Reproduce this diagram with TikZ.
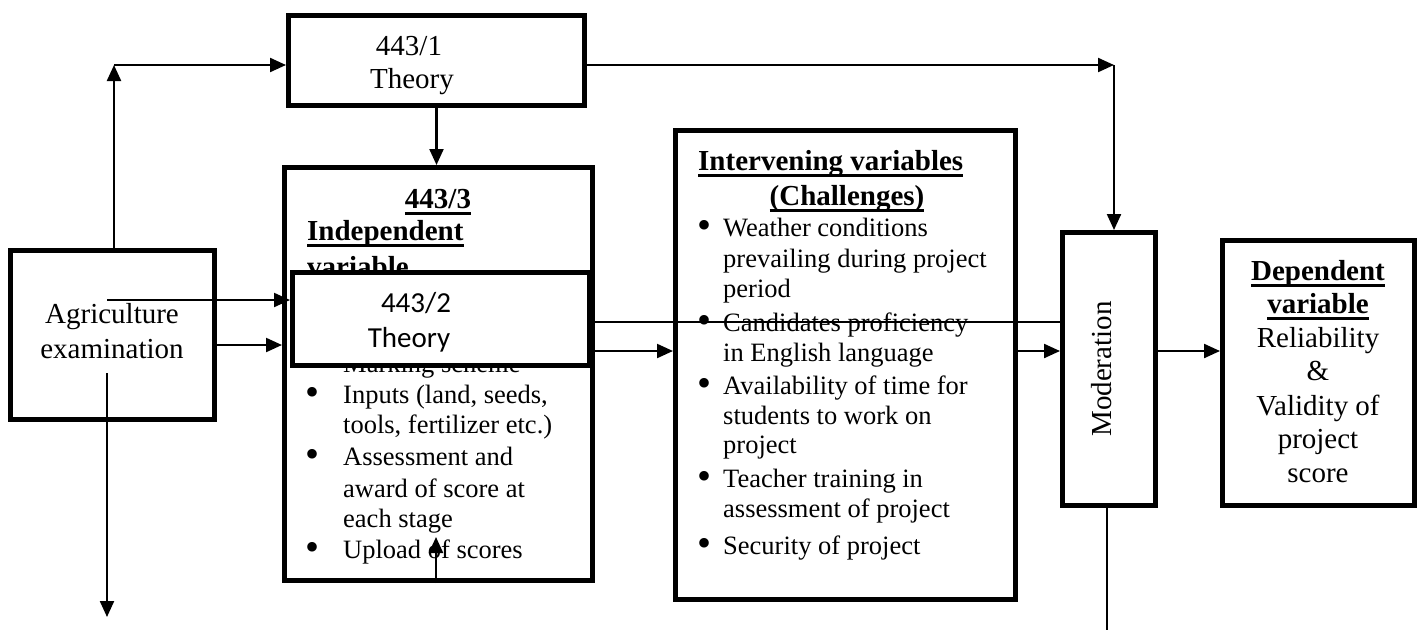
\documentclass[tikz,border=0pt]{standalone}
\usepackage{fontspec}
\setmainfont{Liberation Serif}
\newfontfamily\calibrifont{Carlito}
\usetikzlibrary{arrows.meta}
\newsavebox\myulbox
\newcommand{\myul}[1]{\sbox\myulbox{#1}\rlap{\rule[-6.5pt]{\wd\myulbox}{2.5pt}}\usebox\myulbox}
\newcommand{\fsA}{\fontsize{29pt}{34pt}\selectfont}
\newcommand{\fsB}{\fontsize{26.5pt}{30pt}\selectfont}
\newcommand{\fsBul}{\fontsize{40pt}{40pt}\selectfont}
\begin{document}
\begin{tikzpicture}[x=1pt,y=-1pt,
  box/.style={draw, line width=5pt, fill=white, inner sep=0pt},
  arr/.style={line width=2.2pt, -{Triangle[length=16pt,width=14pt]}},
  ln/.style={line width=2.2pt},
  bigt/.style={font=\fsA, inner sep=0pt, anchor=base},
  bigbt/.style={font={\fsA\bfseries}, inner sep=0pt, anchor=base},
  smt/.style={font=\fsB, inner sep=0pt, anchor=base west},
  bul/.style={font=\fsBul, inner sep=0pt, anchor=center},
]
\useasboundingbox[fill=white] (0,0) rectangle (1423,630);

% boxes
\node[box, minimum width=204pt, minimum height=169pt] (agri) at (112.5,335) {};
\node[box, minimum width=296pt, minimum height=90pt] (th1) at (436.5,60.5) {};
\node[box, minimum width=308pt, minimum height=413pt] (ind) at (438.5,374) {};
\node[box, minimum width=340pt, minimum height=469pt] (intv) at (845.5,365) {};
\node[box, minimum width=93pt, minimum height=273pt] (mod) at (1109,369) {};
\node[box, minimum width=192pt, minimum height=265pt] (dep) at (1318.5,373) {};

% agriculture
\node[bigt] (ag1) at (112,323) {Agriculture};
\node[bigt] (ag2) at (112,358) {examination};

% theory 1
\node[bigt] (t1a) at (409,55) {443/1};
\node[bigt] (t1b) at (412,88) {Theory};

% independent
\node[bigbt] (i0) at (438,208) {\myul{443/3}};
\node[bigbt, anchor=base west] (i1) at (307,240) {\myul{Independent}};
\node[bigbt, anchor=base west] (i2) at (307,276) {\myul{variable}};
\node[smt] (i3) at (343,372) {Marking scheme};
\node[bul] (ib1) at (312,396) {•};
\node[smt] (i4) at (343,403) {Inputs (land, seeds,};
\node[smt] (i5) at (343,433) {tools, fertilizer etc.)};
\node[bul] (ib2) at (312,458) {•};
\node[smt] (i6) at (343,465) {Assessment and};
\node[smt] (i7) at (343,497) {award of score at};
\node[smt] (i8) at (343,527) {each stage};
\node[bul] (ib3) at (312,551) {•};
\node[smt] (i9) at (343,558) {Upload of scores};

% theory 2 box on top
\node[box, minimum width=297pt, minimum height=93pt] (th2) at (441,319) {};
\node[bigt, font={\fsA\calibrifont}] (t2a) at (416,312) {443/2};
\node[bigt, font={\fsA\calibrifont}] (t2b) at (409,347) {Theory};

% intervening
\node[bigbt, anchor=base west] (v0) at (698,170) {\myul{Intervening variables}};
\node[bigbt] (v1) at (847,205) {\myul{(Challenges)}};
\node[bul] (vb1) at (704,229) {•};
\node[smt] (v2) at (723,236) {Weather conditions};
\node[smt] (v3) at (723,267) {prevailing during project};
\node[smt] (v4) at (723,297) {period};
\node[bul] (vb2) at (704,324) {•};
\node[smt] (v5) at (723,331) {Candidates proficiency};
\node[smt] (v6) at (723,361) {in English language};
\node[bul] (vb3) at (704,387) {•};
\node[smt] (v7) at (723,394) {Availability of time for};
\node[smt] (v8) at (723,424) {students to work on};
\node[smt] (v9) at (723,453) {project};
\node[bul] (vb4) at (704,480) {•};
\node[smt] (v10) at (723,487) {Teacher training in};
\node[smt] (v11) at (723,517) {assessment of project};
\node[bul] (vb5) at (704,547) {•};
\node[smt] (v12) at (723,554) {Security of project};

% moderation
\node[font=\fsA, inner sep=0pt, rotate=90] (mt) at (1102,369) {Moderation};

% dependent
\node[bigbt] (d1) at (1318,280) {\myul{Dependent}};
\node[bigbt] (d2) at (1318,313) {\myul{variable}};
\node[bigt] (d3) at (1318,347) {Reliability};
\node[bigt] (d4) at (1318,380) {\&};
\node[bigt] (d5) at (1318,415) {Validity of};
\node[bigt] (d6) at (1318,448) {project};
\node[bigt] (d7) at (1318,482) {score};

% connectors
\coordinate (c1) at (114,65);
\draw[arr] (agri.north -| c1) -- (c1);
\draw[arr] (c1) -- (th1.west |- c1);
\coordinate (c2) at (1114,65);
\draw[arr] (th1.east |- c2) -- (c2);
\draw[arr] (c2) -- (mod.north -| c2);
\draw[arr] (th1.south) -- (th1.south |- ind.north);
\coordinate (c3) at (107,300);
\draw[arr] (c3) -- (th2.west |- c3);
\coordinate (c4) at (0,345);
\draw[arr] (agri.east |- c4) -- (ind.west |- c4);
\coordinate (c5) at (107,373);
\coordinate (c6) at (107,617);
\draw[arr] (c5) -- (c6);
\coordinate (c7) at (0,322);
\draw[ln] (ind.east |- c7) -- (mod.west |- c7);
\coordinate (c8) at (0,351);
\draw[arr] (ind.east |- c8) -- (intv.west |- c8);
\draw[arr] (intv.east |- c8) -- (mod.west |- c8);
\draw[arr] (mod.east |- c8) -- (dep.west |- c8);
\coordinate (c9) at (1107,630);
\draw[ln] (mod.south -| c9) -- (c9);
\coordinate (c10) at (436,537);
\draw[arr] (ind.south -| c10) -- (c10);
\end{tikzpicture}
\end{document}
